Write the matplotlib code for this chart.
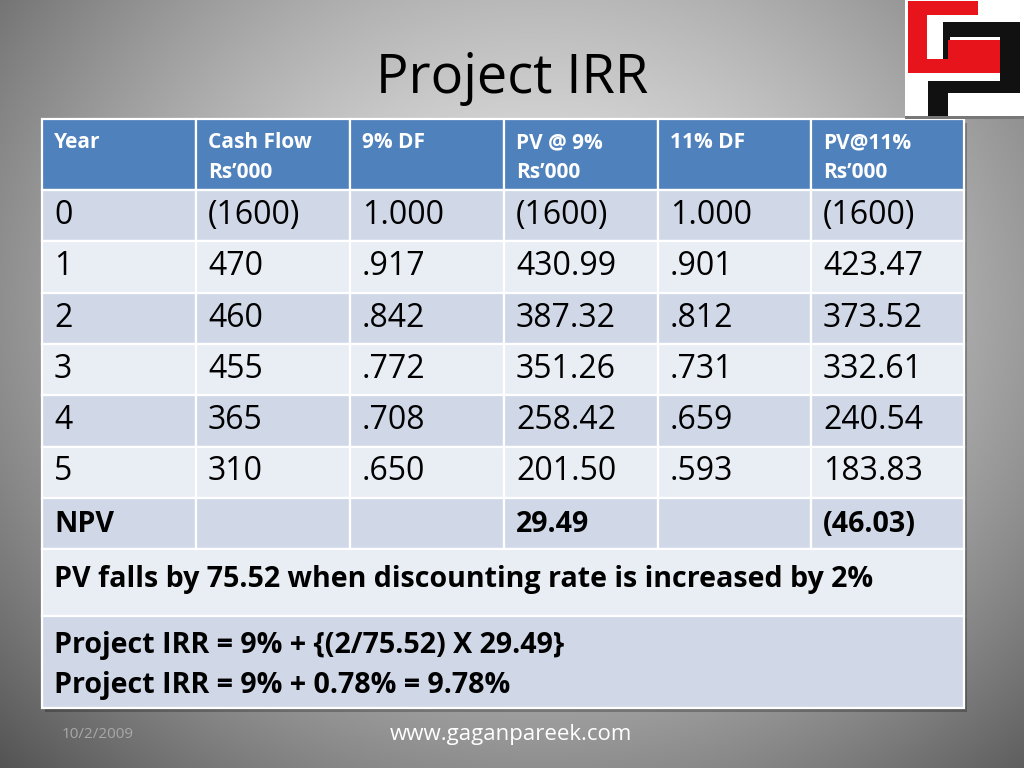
import numpy as np
import matplotlib
matplotlib.use("Agg")
import matplotlib.pyplot as plt
from matplotlib.patches import Rectangle

# table data
headers = [["Year"], ["Cash Flow", "Rs\u2019000"], ["9% DF"], ["PV @ 9%", "Rs\u2019000"],
           ["11% DF"], ["PV@11%", "Rs\u2019000"]]
years = ["0", "1", "2", "3", "4", "5"]
cash_flow = ["(1600)", "470", "460", "455", "365", "310"]
df9 = ["1.000", ".917", ".842", ".772", ".708", ".650"]
pv9 = ["(1600)", "430.99", "387.32", "351.26", "258.42", "201.50"]
df11 = ["1.000", ".901", ".812", ".731", ".659", ".593"]
pv11 = ["(1600)", "423.47", "373.52", "332.61", "240.54", "183.83"]
npv_row = ["NPV", "", "", "29.49", "", "(46.03)"]
note = "PV falls by 75.52 when discounting rate is increased by 2%"
irr_lines = ["Project IRR = 9% + {(2/75.52) X 29.49}",
             "Project IRR = 9% + 0.78% = 9.78%"]

FONT = "Open Sans"
HEAD_BLUE = "#4F81BD"
ROW_DARK = "#D0D8E8"
ROW_LIGHT = "#E9EDF4"
BOLD_SIZE = 20.6

fig = plt.figure(figsize=(10.24, 7.68), dpi=100)

# grey radial background
bg = fig.add_axes([0, 0, 1, 1])
yy, xx = np.mgrid[0:768, 0:1024]
d = np.sqrt(((xx - 540) / 600.0) ** 2 + ((yy - 300) / 520.0) ** 2)
v = np.clip(0.90 - 0.40 * d ** 1.5, 0.3, 1)
bg.imshow(np.dstack([v, v, v]), aspect="auto", extent=[0, 1024, 768, 0])
bg.set_xlim(0, 1024)
bg.set_ylim(768, 0)
bg.axis("off")

ax = fig.add_axes([0, 0, 1, 1])
ax.set_xlim(0, 1024)
ax.set_ylim(768, 0)
ax.axis("off")

ax.text(512, 93, "Project IRR", fontsize=39, family=FONT, ha="center", va="baseline", color="black")

# table layout (pixels)
col_x = [42, 196, 350, 504, 658, 811, 964]
head_top, head_bot = 119, 190
row_h = 51.3
body_rows = list(zip(years, cash_flow, df9, pv9, df11, pv11))
pad = 12

# shadow
ax.add_patch(Rectangle((col_x[0] + 3, head_top + 4), col_x[-1] - col_x[0], 708 - head_top,
                       facecolor="black", alpha=0.25, edgecolor="none"))

def cell(x0, y0, x1, y1, color):
    ax.add_patch(Rectangle((x0, y0), x1 - x0, y1 - y0, facecolor=color, edgecolor="white", lw=1.6))

# header
for j, h in enumerate(headers):
    cell(col_x[j], head_top, col_x[j + 1], head_bot, HEAD_BLUE)
    for k, line in enumerate(h):
        ax.text(col_x[j] + pad, 148 + 30 * k, line, fontsize=15, family=FONT, weight="bold",
                color="white", ha="left", va="baseline")

# body rows
for i, row in enumerate(body_rows + [tuple(npv_row)]):
    y0 = head_bot + i * row_h
    color = ROW_DARK if i % 2 == 0 else ROW_LIGHT
    bold = (i == len(body_rows))
    for j, val in enumerate(row):
        cell(col_x[j], y0, col_x[j + 1], y0 + row_h, color)
        if val:
            ax.text(col_x[j] + pad, y0 + 34, val, fontsize=BOLD_SIZE if bold else 23, family=FONT,
                    weight="bold" if bold else "normal", color="black", ha="left", va="baseline")

y_note = head_bot + 7 * row_h
cell(col_x[0], y_note, col_x[-1], 616, ROW_LIGHT)
ax.text(col_x[0] + pad, 587, note, fontsize=BOLD_SIZE, family=FONT, weight="bold", ha="left", va="baseline")

cell(col_x[0], 616, col_x[-1], 708, ROW_DARK)
for k, line in enumerate(irr_lines):
    ax.text(col_x[0] + pad, 653 + 40 * k, line, fontsize=BOLD_SIZE, family=FONT, weight="bold",
            ha="left", va="baseline")

# footer
ax.text(62, 738, "10/2/2009", fontsize=11, family=FONT, color="#a8a8a8", ha="left", va="baseline")
ax.text(511, 740, "www.gaganpareek.com", fontsize=16, family=FONT, color="white", ha="center", va="baseline")

# logo
ax.add_patch(Rectangle((905, 116), 119, 3, facecolor="#777777", edgecolor="none"))
ax.add_patch(Rectangle((905, 0), 119, 116, facecolor="white", edgecolor="none"))
for (x0, y0, x1, y1) in [(943, 22, 1020, 37), (1000, 22, 1020, 93), (928, 81, 1020, 93),
                         (928, 81, 948, 116), (943, 22, 950, 60)]:
    ax.add_patch(Rectangle((x0, y0), x1 - x0, y1 - y0, facecolor="#111111", edgecolor="none"))
for (x0, y0, x1, y1) in [(908, 1, 978, 15), (908, 1, 927, 73), (908, 59, 1000, 73),
                         (948, 40, 1000, 59), (980, 40, 1000, 73)]:
    ax.add_patch(Rectangle((x0, y0), x1 - x0, y1 - y0, facecolor="#e8141b", edgecolor="none"))

fig.savefig("out.png", dpi=100)
